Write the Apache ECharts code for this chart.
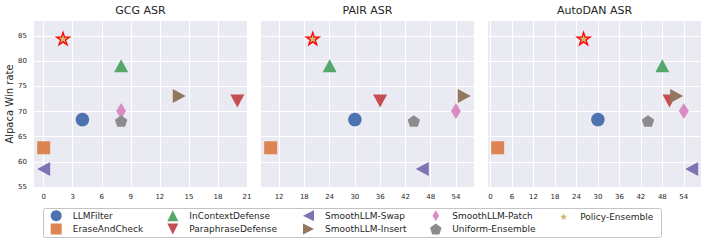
<!DOCTYPE html>
<html>
<head>
<meta charset="utf-8">
<script src="https://cdn.jsdelivr.net/npm/echarts@6/dist/echarts.min.js"></script>
<style>html,body{margin:0;padding:0;background:#fff}#c{width:706px;height:243px}</style>
</head>
<body>
<div id="c"></div>
<script>
// ---- data ----
const methods = ['LLMFilter','EraseAndCheck','InContextDefense','ParaphraseDefense','SmoothLLM-Swap','SmoothLLM-Insert','SmoothLLM-Patch','Uniform-Ensemble','Policy-Ensemble'];
const winRate   = [68.4, 62.8, 79.1, 72.1, 58.6, 73.1, 70.1, 68.1, 84.5];
const gcgASR    = [4, 0, 8, 20, 0, 14, 8, 8, 2];
const pairASR   = [30, 10, 24, 36, 46, 56, 54, 44, 20];
const autodanASR= [30, 2, 48, 50, 56.2, 52, 54, 44, 26];
const panelTitles = ['GCG ASR', 'PAIR ASR', 'AutoDAN ASR'];
const yTicks = [55, 60, 65, 70, 75, 80, 85];
const xTicksGCG = [0, 3, 6, 9, 12, 15, 18, 21];
const xTicksPAIR = [12, 18, 24, 30, 36, 42, 48, 54];
const xTicksAutoDAN = [0, 6, 12, 18, 24, 30, 36, 42, 48, 54];
const yLabel = 'Alpaca Win rate';

// ---- styling ----
const FONT = 'DejaVu Sans';
const TXT = '#262626';
const colors = ['#4C72B0','#DD8452','#55A868','#C44E52','#8172B3','#937860','#DA8BC3','#8C8C8C','#CCB974'];
const symbols = [
  'circle',
  'path://M0,0L10,0L10,10L0,10Z',
  'path://M5,0L10,10L0,10Z',
  'path://M0,0L10,0L5,10Z',
  'path://M0,5L10,0L10,10Z',
  'path://M0,0L10,5L0,10Z',
  'path://M3,0L6,5L3,10L0,5Z',
  'path://M100,0L195.1,69.1L158.8,180.9L41.2,180.9L4.9,69.1Z',
  'path://M100,0L122.45,69.1L195.1,69.1L136.33,111.8L158.8,180.9L100,138.2L41.2,180.9L63.67,111.8L4.9,69.1L77.55,69.1Z'
];
const sizes = [13.5, [13,13], [14,13], [14,13], [13,14], [13,14], [10,16], [12.5,11.5], [13,12.5]];

const asr = [gcgASR, pairASR, autodanASR];
const xTicks = [xTicksGCG, xTicksPAIR, xTicksAutoDAN];
const xRanges = [[-1, 21], [7.7, 58.3], [-0.7, 58.8]];
const gridLefts = [34, 261, 488];

const grid = gridLefts.map(l => ({left: l, top: 17, width: 213, height: 170, backgroundColor: '#EAEAF2', show: true, borderWidth: 0}));

const xAxis = [];
const yAxis = [];
for (let p = 0; p < 3; p++) {
  xAxis.push({
    type: 'value', gridIndex: p, min: xRanges[p][0], max: xRanges[p][1],
    axisLine: {show: false}, axisTick: {show: false, customValues: xTicks[p]},
    axisLabel: {customValues: xTicks[p], fontFamily: FONT, fontSize: 7, color: TXT, margin: 6},
    splitLine: {show: true, lineStyle: {color: '#ffffff', width: 1}}
  });
  yAxis.push({
    type: 'value', gridIndex: p, min: 55, max: 88,
    axisLine: {show: false}, axisTick: {show: false, customValues: yTicks},
    axisLabel: {show: p === 0, customValues: yTicks, fontFamily: FONT, fontSize: 7, color: TXT, margin: 7},
    splitLine: {show: true, lineStyle: {color: '#ffffff', width: 1}},
    name: p === 0 ? yLabel : '', nameLocation: 'middle', nameGap: 17.5,
    nameTextStyle: {fontFamily: FONT, fontSize: 10, color: TXT}
  });
}
// top axes carrying the panel titles
for (let p = 0; p < 3; p++) {
  xAxis.push({
    type: 'value', gridIndex: p, position: 'top', min: xRanges[p][0], max: xRanges[p][1],
    axisLine: {show: false}, axisTick: {show: false}, axisLabel: {show: false}, splitLine: {show: false},
    name: panelTitles[p], nameLocation: 'middle', nameGap: 5,
    nameTextStyle: {fontFamily: FONT, fontSize: 11, color: TXT}
  });
}

const series = [];
for (let p = 0; p < 3; p++) {
  for (let m = 0; m < methods.length; m++) {
    const star = m === 8;
    series.push({
      type: 'scatter', name: methods[m], xAxisIndex: p, yAxisIndex: p,
      data: [[asr[p][m], winRate[m]]],
      symbol: symbols[m], symbolSize: sizes[m],
      itemStyle: {color: colors[m], opacity: 1, borderColor: star ? '#ff0000' : colors[m], borderWidth: star ? 1.3 : 0},
      emphasis: {disabled: true}, silent: true, z: 2 + m
    });
  }
}

const legendCols = [[0,1],[2,3],[4,5],[6,7],[8]];
const legendLefts = [50.7, 167.3, 303, 430, 560];
const legend = legendCols.map((col, i) => ({
  orient: 'vertical', left: legendLefts[i], top: i === 4 ? 212.2 : 210.2, padding: 0,
  itemWidth: 23, itemHeight: i === 4 ? 7 : 11, itemGap: 2.3, selectedMode: false,
  data: col.map(m => ({name: methods[m], itemStyle: {borderWidth: 0}})),
  textStyle: {fontFamily: FONT, fontSize: 9, color: TXT}
}));

const chart = echarts.init(document.getElementById('c'), null, {renderer: 'svg'});
chart.setOption({
  animation: false,
  grid, xAxis, yAxis, series, legend,
  graphic: [{type: 'rect', z: -10, silent: true,
    shape: {x: 43.5, y: 208.5, width: 618, height: 29, r: 2},
    style: {fill: '#ffffff', stroke: '#c4c4c4', lineWidth: 1}}]
});
</script>
</body>
</html>
